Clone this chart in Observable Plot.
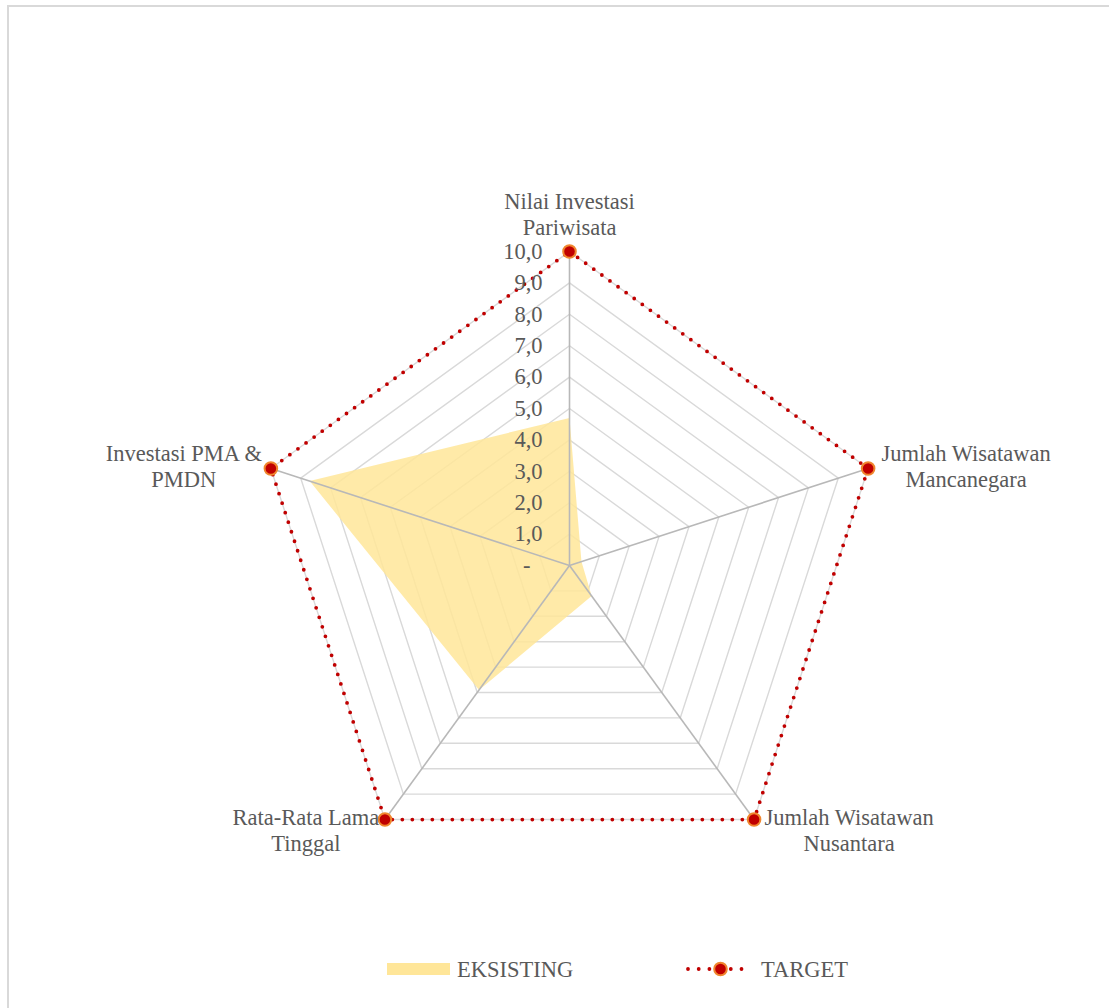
<!DOCTYPE html>
<html>
<head>
<meta charset="utf-8">
<script src="https://cdn.jsdelivr.net/npm/d3@7"></script>
<script src="https://cdn.jsdelivr.net/npm/@observablehq/plot@0.6"></script>
<style>
  html, body { margin: 0; padding: 0; background: #fff; overflow: hidden; }
  #frame {
    position: absolute; left: 7px; top: 5px; width: 1120px; height: 1020px;
    border: 2px solid #d9d9d9; box-sizing: border-box;
  }
  #chart { position: absolute; left: 0; top: 0; }
  #legend {
    position: absolute; left: 0; top: 950px; width: 1109px; height: 40px;
    font-family: "Liberation Serif", "Times New Roman", serif; font-size: 22.5px; color: #595959;
  }
  #legend .item { position: absolute; top: 0; height: 40px; display: flex; align-items: center; }
</style>
</head>
<body>
<div id="frame"></div>
<div id="chart"></div>
<div id="legend"></div>
<script>
// Axes of the radar, clockwise from the top
const categories = [
  "Nilai Investasi\nPariwisata",
  "Jumlah Wisatawan\nMancanegara",
  "Jumlah Wisatawan\nNusantara",
  "Rata-Rata Lama\nTinggal",
  "Investasi PMA &\nPMDN"
];
const eksisting = [4.7, 0.4, 1.2, 4.9, 8.7];
const target = [10, 10, 10, 10, 10];
const tickValues = [0, 1, 2, 3, 4, 5, 6, 7, 8, 9, 10];
const tickLabels = ["-", "1,0", "2,0", "3,0", "4,0", "5,0", "6,0", "7,0", "8,0", "9,0", "10,0"];

const W = 1109, H = 940;
const CX = 569, CY = 565, UNIT = 31.4; // pixels per value unit
const N = categories.length;
const ang = i => Math.PI / 2 - (i % N) * 2 * Math.PI / N;
const px = (i, v) => v * Math.cos(ang(i));
const py = (i, v) => v * Math.sin(ang(i));

// closed polygon through all axes at the given values
const ring = (vals, key) => d3.range(N + 1).map(i => ({key, i, v: vals[i % N]}));

const rings = tickValues.filter(v => v > 0).flatMap(v => ring(target.map(() => v), v));
const spokes = categories.map((c, i) => ({i, v: d3.max(tickValues)}));
const eksPoly = ring(eksisting, "e");
const tgtPoly = ring(target, "t");
const tgtPts = target.map((v, i) => ({i, v}));
const ticks = tickValues.map((v, k) => ({v, label: tickLabels[k]}));

// label placement per axis (pixel offsets from the outer vertex)
const labelOffsets = [[0, -38], [98, -3], [95, 10], [-79, 10], [-87, -3]];

const font = `"Liberation Serif", "Times New Roman", serif`;

const chart = Plot.plot({
  width: W, height: H,
  marginTop: 0, marginRight: 0, marginBottom: 0, marginLeft: 0,
  x: {domain: [-CX / UNIT, (W - CX) / UNIT], range: [0, W], axis: null},
  y: {domain: [-(H - CY) / UNIT, CY / UNIT], range: [H, 0], axis: null},
  style: {fontFamily: font, fontSize: "22.5px", color: "#595959", background: "transparent", overflow: "visible"},
  marks: [
    Plot.line(rings, {
      x: d => px(d.i, d.v), y: d => py(d.i, d.v), z: "key",
      stroke: "#d9d9d9", strokeWidth: 1.4, curve: "linear"
    }),
    Plot.line(eksPoly, {
      x: d => px(d.i, d.v), y: d => py(d.i, d.v),
      fill: "#ffe699", fillOpacity: 0.85, stroke: "none"
    }),
    Plot.link(spokes, {
      x1: 0, y1: 0, x2: d => px(d.i, d.v), y2: d => py(d.i, d.v),
      stroke: "#b8b8b8", strokeWidth: 1.6
    }),
    Plot.line(tgtPoly, {
      x: d => px(d.i, d.v), y: d => py(d.i, d.v),
      stroke: "#c00000", strokeWidth: 3.8, strokeDasharray: "0 10",
      strokeLinecap: "round"
    }),
    Plot.dot(tgtPts, {
      x: d => px(d.i, d.v), y: d => py(d.i, d.v),
      r: 6.3, fill: "#c00000", stroke: "#f0862e", strokeWidth: 2
    }),
    Plot.text(ticks.filter(d => d.v > 0), {
      x: 0, y: d => d.v, text: "label",
      textAnchor: "end", lineAnchor: "middle", dx: -27, fill: "currentColor"
    }),
    Plot.text(ticks.filter(d => d.v === 0), {
      x: 0, y: d => d.v, text: "label",
      textAnchor: "end", lineAnchor: "middle", dx: -39, fill: "currentColor"
    }),
    ...categories.map((c, i) => Plot.text([{i, c}], {
      x: d => px(d.i, target[d.i]), y: d => py(d.i, target[d.i]), text: "c",
      textAnchor: "middle", lineAnchor: "middle", lineHeight: 1.16,
      dx: labelOffsets[i][0], dy: labelOffsets[i][1], fill: "currentColor"
    }))
  ]
});
document.getElementById("chart").append(chart);

// legend
const legend = document.getElementById("legend");
legend.innerHTML = `
  <div class="item" style="left:387px">
    <svg width="63" height="40"><rect x="0" y="13" width="63" height="12" fill="#ffe699"/></svg>
    <span style="margin-left:7px">EKSISTING</span>
  </div>
  <div class="item" style="left:682px">
    <svg width="76" height="40">
      <line x1="6" y1="19" x2="70" y2="19" stroke="#c00000" stroke-width="3.8"
        stroke-dasharray="0 10.7" stroke-linecap="round"/>
      <circle cx="38.5" cy="19" r="6.3" fill="#c00000" stroke="#f0862e" stroke-width="2"/>
    </svg>
    <span style="margin-left:3px">TARGET</span>
  </div>`;
</script>
</body>
</html>
